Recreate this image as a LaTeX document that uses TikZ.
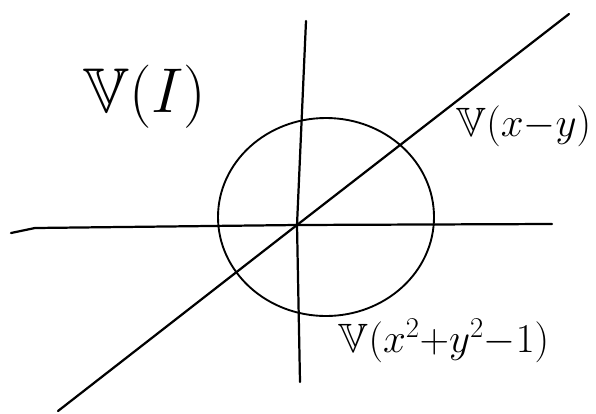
\RequirePackage{fix-cm}
\documentclass[tikz,border=0pt]{standalone}
\usepackage{amsmath,amssymb}
\usepackage{tikz}
\usetikzlibrary{calc}

\begin{document}
\begin{tikzpicture}[
  x=0.03cm, y=-0.03cm,
  ln/.style={draw,line width=1.9pt,line cap=round,line join=round},
  crv/.style={draw,line width=1.6pt},
  lbl/.style={inner sep=0pt,font=\fontsize{35}{39}\selectfont}]

\useasboundingbox (0,0) rectangle (596,413);

\coordinate (o) at (297,225);
\coordinate (hl) at (11,233);
\coordinate (hk) at (35,228);
\coordinate (hr) at (552,224);
\coordinate (vt) at (306,21);
\coordinate (vb) at (300,382);
\coordinate (dl) at (58,411);
\coordinate (dr) at (569,14);

\draw[ln] (hl) -- (hk) -- (o) -- (hr);
\draw[ln] (vt) -- (o) -- (vb);
\draw[ln] (dl) -- (o) -- (dr);
\draw[crv] (326,217) ellipse [x radius=108, y radius=99];

\node[lbl,font=\fontsize{54}{58}\selectfont] (vi) at (145,97) {$\mathbb{V}(I)$};
\node[lbl] (vxy) at (524,126) {$\mathbb{V}(x{-}y)$};
\node[lbl] (vc) at (444,341) {$\mathbb{V}(x^2{+}y^2{-}1)$};
\end{tikzpicture}
\end{document}
